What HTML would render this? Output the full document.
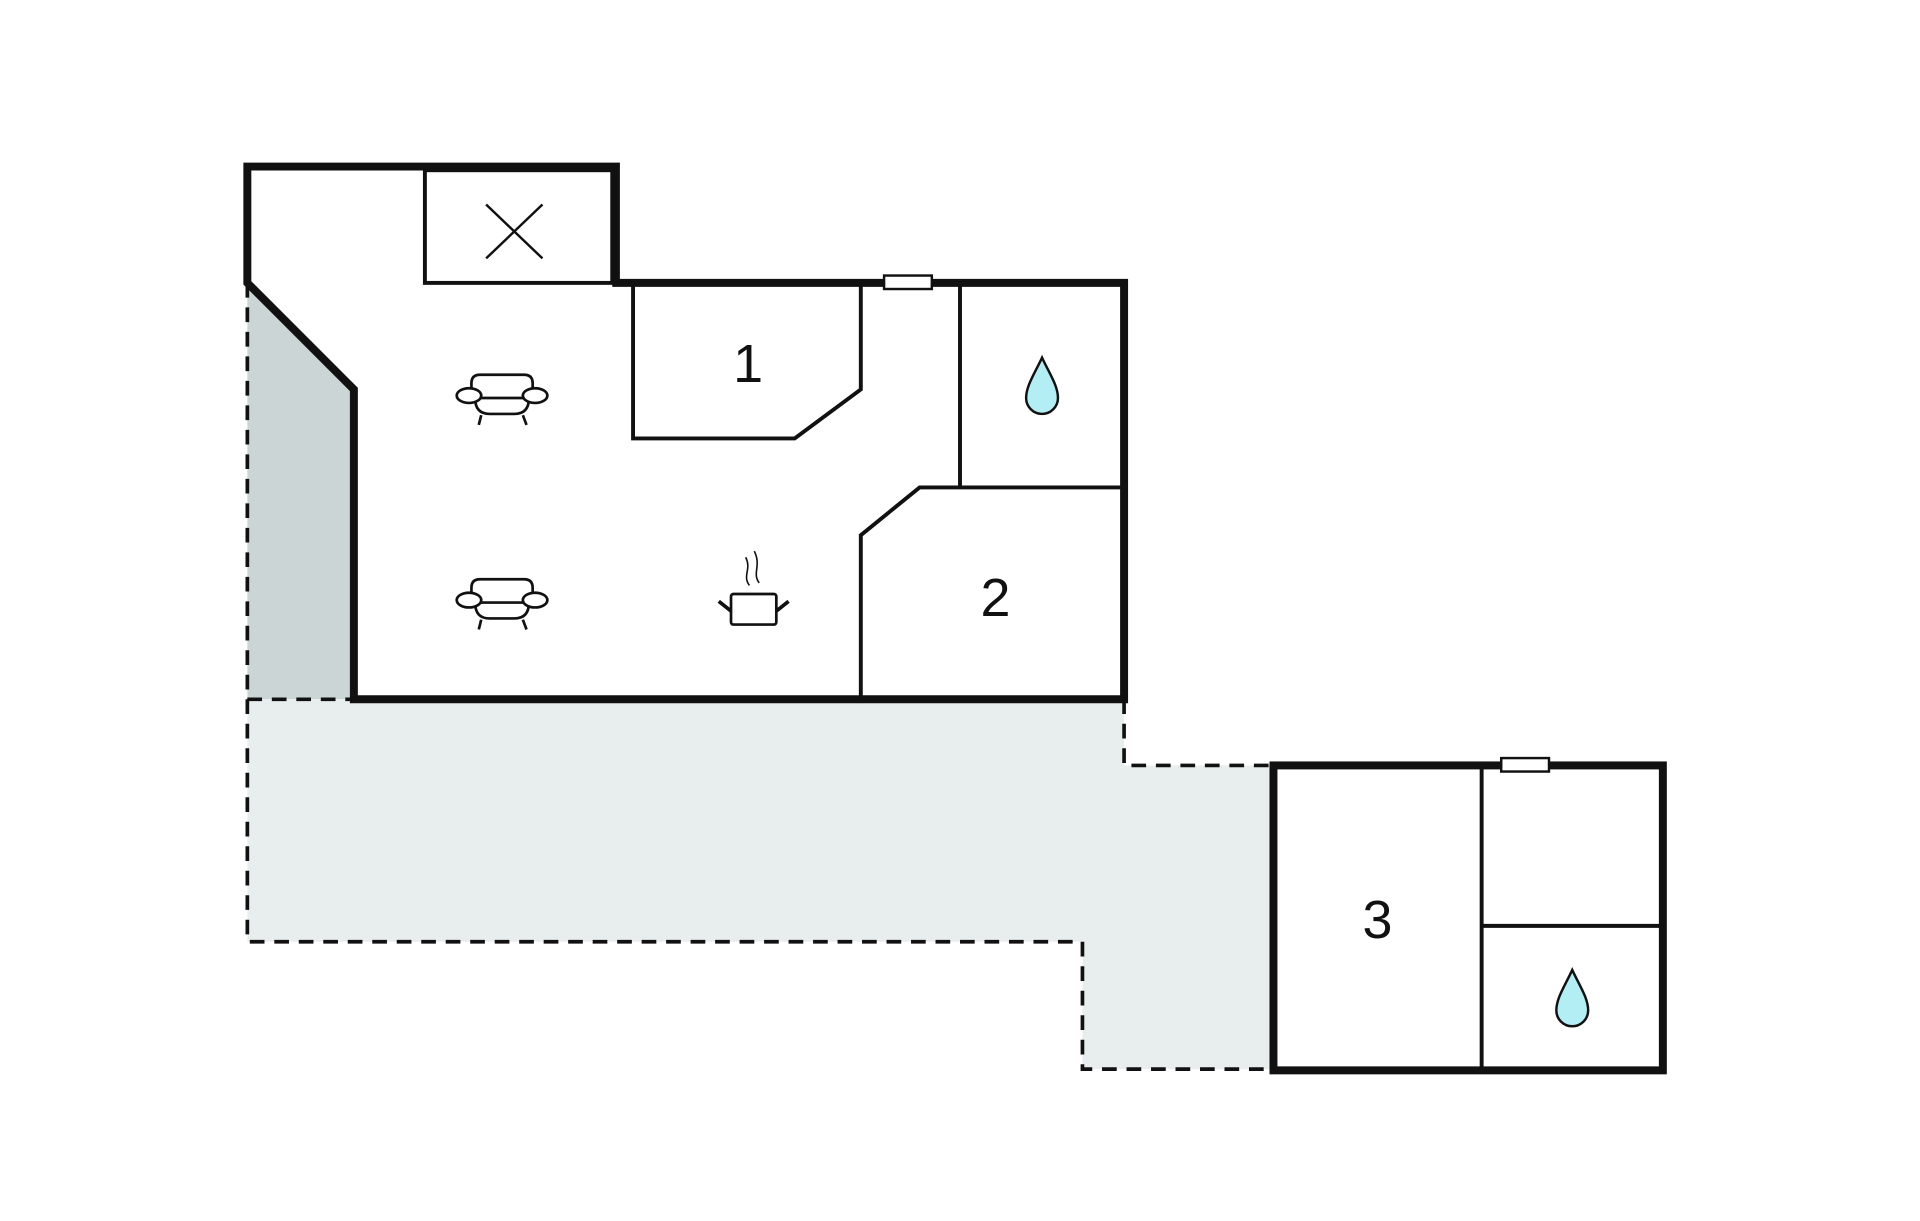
<!DOCTYPE html>
<html><head><style>html,body{margin:0;padding:0;background:#fff}svg{display:block}</style></head>
<body>
<svg width="1920" height="1221" viewBox="0 0 1568 997" preserveAspectRatio="none" xmlns="http://www.w3.org/2000/svg">
<rect width="1568" height="997" fill="#fff"/>
<polygon points="202,231 289,318 289,571 202,571" fill="#cbd5d5"/>
<polygon points="202,571 918,571 918,625 1040,625 1040,873 884,873 884,769 202,769" fill="#e8eeee"/>
<g stroke="#111" stroke-width="3" stroke-dasharray="12,8" fill="none">
<polyline points="202,231 202,769 884,769 884,873 1040,873"/>
<line x1="202" y1="571" x2="289" y2="571"/>
<polyline points="918,571 918,625 1040,625"/>
</g>
<g stroke="#111" stroke-width="6.5" fill="none" stroke-linejoin="miter">
<polyline points="503,231 503,136 202,136 202,231 289,318 289,571 918,571 918,231 500,231"/>
<rect x="1040" y="625" width="318" height="249"/>
</g>
<g stroke="#111" stroke-width="3.2" fill="none">
<rect x="347" y="139" width="153" height="92"/>
<line x1="397" y1="167" x2="443" y2="211" stroke-width="2"/>
<line x1="443" y1="167" x2="397" y2="211" stroke-width="2"/>
<polyline points="517,233 517,358 649,358 703,318 703,233"/>
<line x1="784" y1="233" x2="784" y2="398"/>
<polyline points="703,571 703,437 751,398 915,398"/>
<line x1="1210" y1="627" x2="1210" y2="872"/>
<line x1="1210" y1="756" x2="1355" y2="756"/>
</g>
<rect x="722" y="225" width="39" height="11" fill="#fff" stroke="#111" stroke-width="2"/>
<rect x="1226" y="619" width="39" height="11" fill="#fff" stroke="#111" stroke-width="2"/>
<g font-family="Liberation Sans, sans-serif" font-size="44" fill="#111" text-anchor="middle">
<text x="611" y="312">1</text>
<text x="813" y="503">2</text>
<text x="1125" y="766">3</text>
</g>
<g fill="#b3eef4" stroke="#111" stroke-width="2">
<path d="M851,292 C845,305 838,315 838,325 A13,13 0 0 0 864,325 C864,315 857,305 851,292 Z"/>
<path d="M1284,792 C1278,805 1271,815 1271,825 A13,13 0 0 0 1297,825 C1297,815 1290,805 1284,792 Z"/>
</g>
<defs>
<g id="sofa" stroke="#111" stroke-width="2.2" fill="#fff">
<path d="M-25,0 L-25,-10 Q-25,-17 -18,-17 L18,-17 Q25,-17 25,-10 L25,0"/>
<path d="M-22,2 Q-22,15 -10,15 L10,15 Q22,15 22,2"/>
<line x1="-25" y1="2" x2="25" y2="2"/>
<ellipse cx="-27" cy="0" rx="10" ry="6"/>
<ellipse cx="27" cy="0" rx="10" ry="6"/>
<line x1="-17" y1="16" x2="-19" y2="24"/>
<line x1="17" y1="16" x2="20" y2="24"/>
</g>
</defs>
<use href="#sofa" x="410" y="323"/>
<use href="#sofa" x="410" y="490"/>
<g stroke="#111" stroke-width="2.2" fill="#fff">
<rect x="597" y="485" width="37" height="25" rx="2"/>
<line x1="587" y1="491" x2="597" y2="499" stroke-width="3"/>
<line x1="634" y1="499" x2="644" y2="491" stroke-width="3"/>
<path d="M612,478 C606,470 614,465 609,455" fill="none" stroke-width="1.3"/>
<path d="M620,476 C614,468 622,462 616,450" fill="none" stroke-width="1.3"/>
</g>
</svg>
</body></html>
